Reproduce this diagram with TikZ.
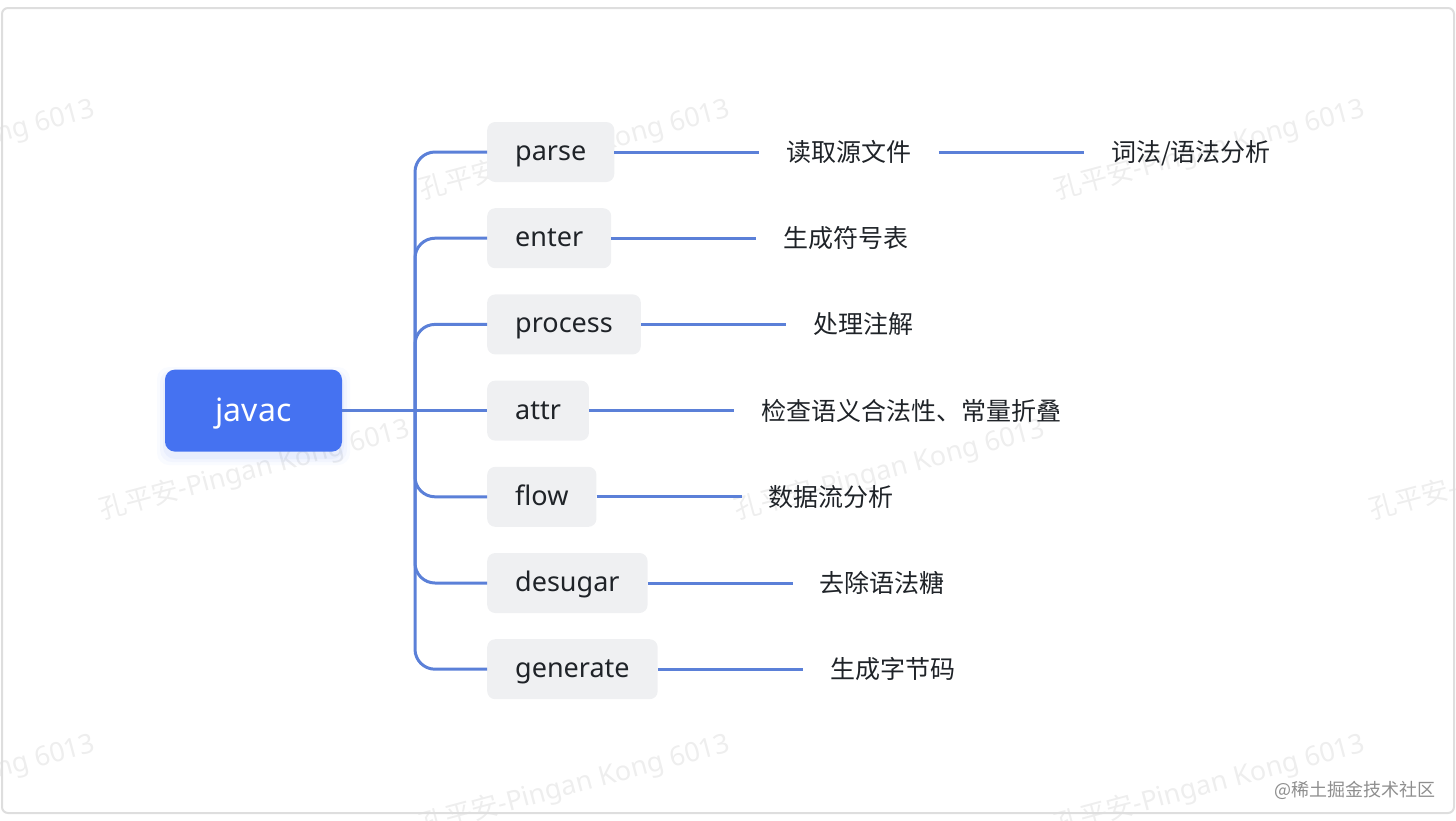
\documentclass[tikz,border=0pt]{standalone}
\usepackage{fontspec}
\setmainfont{Noto Sans}
\newfontfamily\cjk{Noto Sans CJK SC}
\usetikzlibrary{positioning}
\definecolor{jblue}{HTML}{4572F1}
\definecolor{lineblue}{HTML}{5B80D8}
\definecolor{boxgray}{HTML}{EFF0F2}
\definecolor{txt}{HTML}{1F2328}
\definecolor{wm}{HTML}{EEEEEE}
\definecolor{framegray}{HTML}{DEDEDE}
\definecolor{credit}{HTML}{8E8E8E}
\begin{document}
\begin{tikzpicture}[x=1pt,y=-1pt,
  root/.style={fill=jblue, rounded corners=10pt, minimum width=177pt, minimum height=82pt,
    text=white, font=\fontsize{32}{36}\selectfont, text height=21pt, text depth=0pt, inner sep=0pt},
  stage/.style={fill=boxgray, rounded corners=8pt, minimum height=60pt, inner xsep=28pt, inner ysep=0pt,
    text=txt, font=\fontsize{27}{30}\selectfont, text height=17pt, text depth=0pt, anchor=west},
  lbl/.style={font=\cjk\fontsize{25}{28}\selectfont, text=txt, inner xsep=27pt, inner ysep=0pt,
    text height=21.5pt, text depth=2.5pt},
  link/.style={draw=lineblue, line width=3pt},
  branch/.style={link, rounded corners=20pt},
  wmark/.style={text=wm, font=\fontsize{27}{30}\selectfont, rotate=15, inner sep=0pt}
]
\useasboundingbox (0,0) rectangle (1456,820);
\begin{scope}
\clip (0,0) rectangle (1456,820);
\foreach \p/\q in {575/150,1210/150,-60/150,255/470,890/470,1525/470,575/785,1210/785,-60/785}
  \node[wmark] at (\p,\q) {{\cjk 孔平安}-Pingan Kong 6013};
\end{scope}
\draw[framegray, line width=2pt, rounded corners=6pt] (2,8) rectangle (1454,813);

% root shadow
\foreach \e/\o in {8/0.03,5/0.04,2/0.05}
  \fill[jblue, opacity=\o, rounded corners=12pt] (165-\e,370-\e+5) rectangle (342+\e,452+\e+5);
\node[root] (root) at (253.5,410.6) {javac};

\node[stage] (parse) at (487,152) {parse};
\node[stage] (enter) at (487,238.2) {enter};
\node[stage] (process) at (487,324.4) {process};
\node[stage] (attr) at (487,410.6) {attr};
\node[stage] (flow) at (487,496.8) {flow};
\node[stage] (desugar) at (487,583) {desugar};
\node[stage] (generate) at (487,669.2) {generate};

\node[lbl, right=145pt of parse] (l1) {读取源文件};
\node[lbl, right=145pt of l1] (l1b) {词法/语法分析};
\node[lbl, right=145pt of enter] (l2) {生成符号表};
\node[lbl, right=145pt of process] (l3) {处理注解};
\node[lbl, right=145pt of attr] (l4) {检查语义合法性、常量折叠};
\node[lbl, right=145pt of flow] (l5) {数据流分析};
\node[lbl, right=145pt of desugar] (l6) {去除语法糖};
\node[lbl, right=145pt of generate] (l7) {生成字节码};

\coordinate (tj) at (415,410.6);
\draw[link] (root.east) -- (attr.west);
\foreach \s in {parse,enter,process,flow,desugar,generate}
  \draw[branch] (tj) |- (\s.west);
\foreach \a/\b in {parse/l1,l1/l1b,enter/l2,process/l3,attr/l4,flow/l5,desugar/l6,generate/l7}
  \draw[link] (\a.east) -- (\b.west);

\node[anchor=east, text=credit, font=\cjk\fontsize{18}{20}\selectfont, inner sep=0pt] (credit) at (1436,790) {@稀土掘金技术社区};
\end{tikzpicture}
\end{document}
